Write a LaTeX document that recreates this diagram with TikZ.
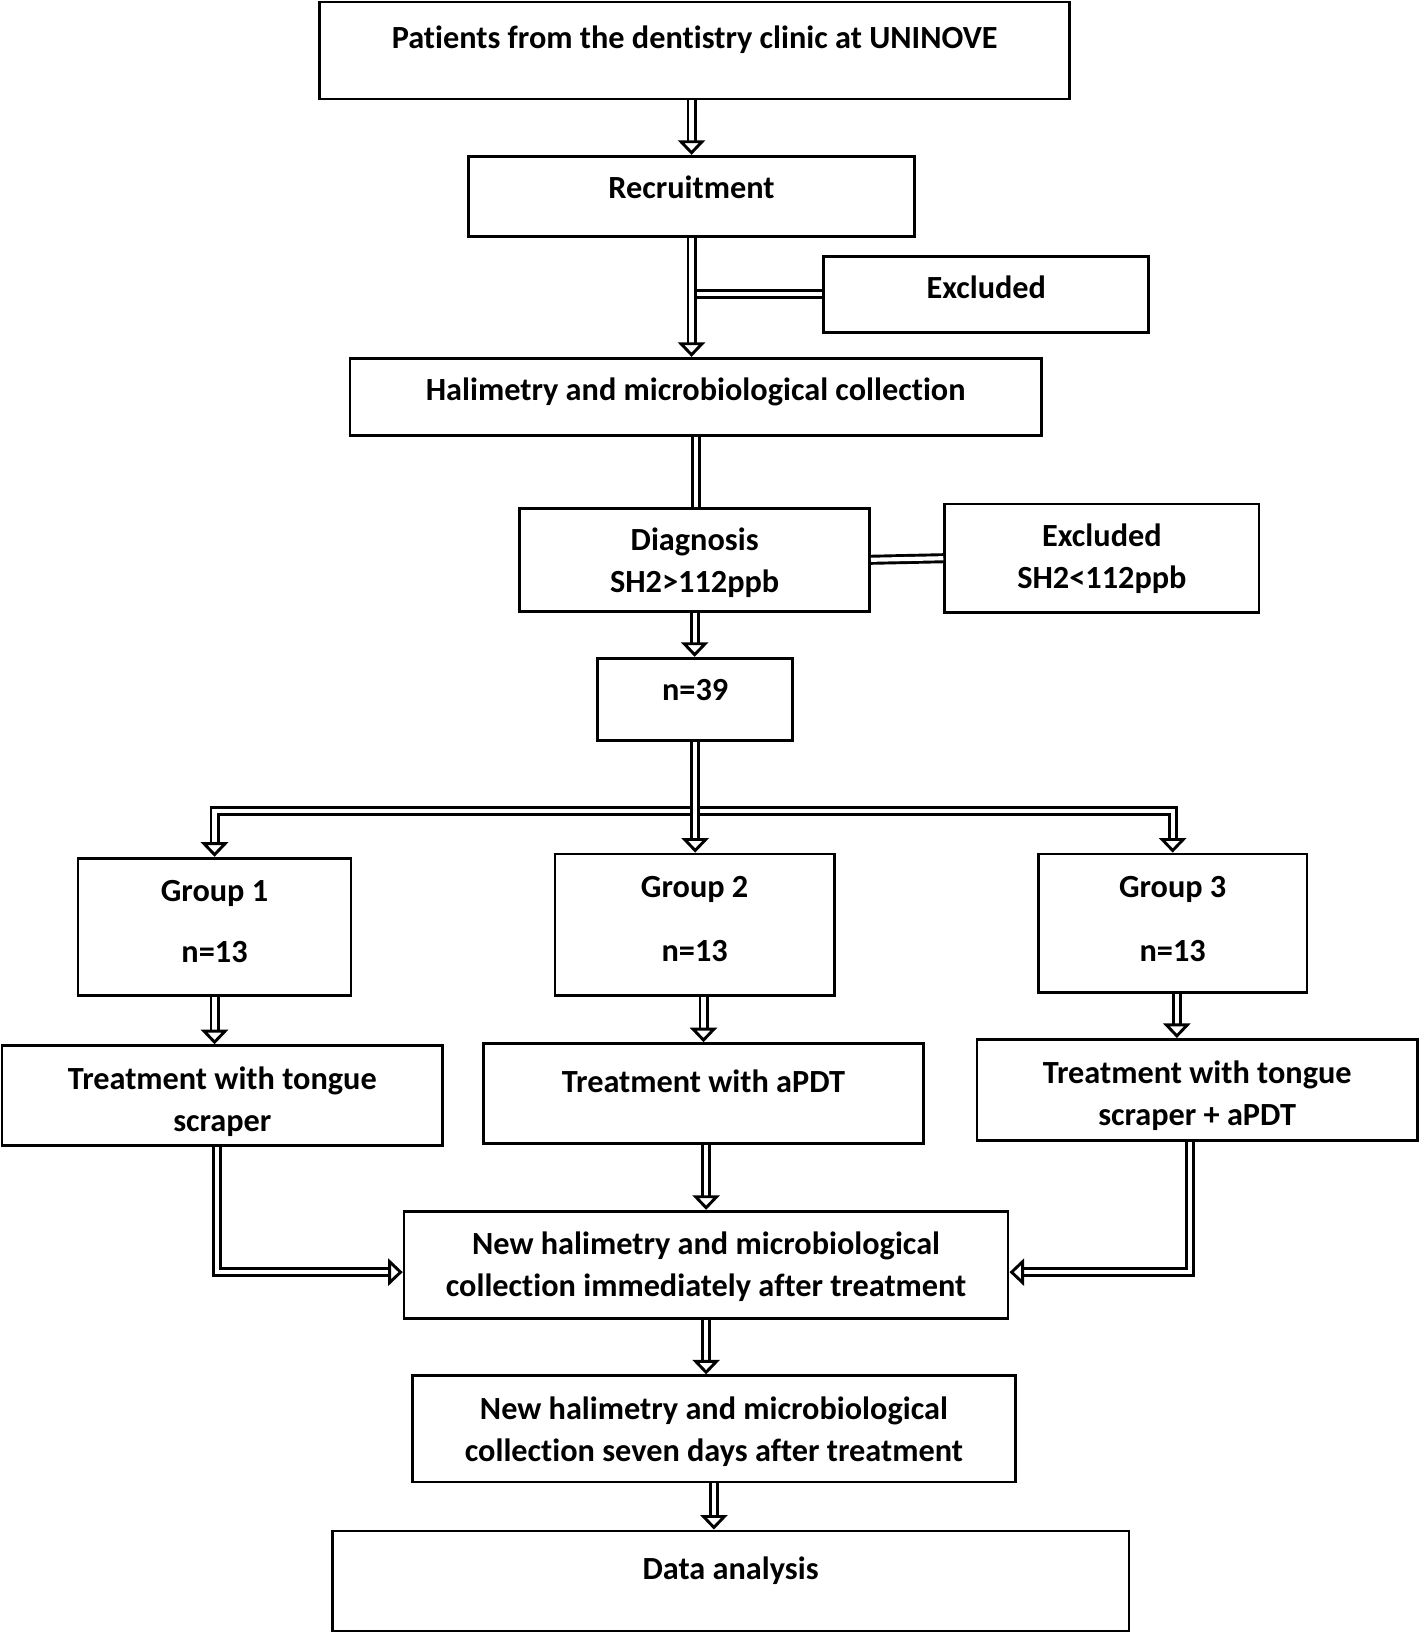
\documentclass[tikz,border=0pt]{standalone}
\usepackage{fontspec}
\setmainfont{Carlito}[Ligatures=NoCommon]
\usetikzlibrary{arrows.meta}

\begin{document}
\begin{tikzpicture}[x=1pt, y=-1pt,
		box/.style={draw, line width=2.6pt, inner sep=0pt, align=center,
			font=\bfseries\fontsize{31}{40}\selectfont},
		dline/.style={double, double distance=4pt, line width=2.8pt},
		darrow/.style={dline, -{Triangle[open, length=14pt, width=26pt, line width=2.8pt]}},
		darrows/.style={dline, {Triangle[open, length=14pt, width=26pt, line width=2.8pt]}-{Triangle[open, length=14pt, width=26pt, line width=2.8pt]}}]
		\useasboundingbox (0,0) rectangle (1363,1568);
		\node [box, minimum width=720, text height=45, text depth=48] (patients) at (667,48.5) {Patients from the dentistry clinic at UNINOVE};
		\node [box, minimum width=428, text height=41, text depth=36] (recruit) at (664,188.5) {Recruitment};
		\node [box, minimum width=312, text height=41, text depth=32] (exclA) at (947,282.5) {Excluded};
		\node [box, minimum width=664, text height=41, text depth=33] (halim) at (668,381) {Halimetry and microbiological collection};
		\node [box, minimum width=336, text height=81, text depth=18] (diag) at (667,537.5) {Diagnosis\\SH2>112ppb};
		\node [box, minimum width=302, text height=81, text depth=23] (exclB) at (1058,536) {Excluded\\SH2<112ppb};
		\node [box, minimum width=187, text height=41, text depth=38] (total) at (667.5,671.5) {n=39};
		\node [box, minimum width=262, text height=100, text depth=32] (group1) at (206,890) {Group 1\\[18pt]n=13};
		\node [box, minimum width=268, text height=103, text depth=33] (group2) at (667,888) {Group 2\\[21pt]n=13};
		\node [box, minimum width=258, text height=103, text depth=30] (group3) at (1126,886.5) {Group 3\\[21pt]n=13};
		\node [box, minimum width=423, text height=82, text depth=14] (treat1) at (213.5,1052) {Treatment with tongue\\scraper};
		\node [box, minimum width=423, text height=47, text depth=49] (treat2) at (675.5,1050) {Treatment with aPDT};
		\node [box, minimum width=423, text height=83, text depth=14] (treat3) at (1149.5,1046.5) {Treatment with tongue\\[1pt]scraper + aPDT};
		\node [box, minimum width=580, text height=82, text depth=21] (after) at (678,1214.5) {New halimetry and microbiological\\collection immediately after treatment};
		\node [box, minimum width=579, text height=82, text depth=20] (seven) at (685.5,1372) {New halimetry and microbiological\\collection seven days after treatment};
		\node [box, minimum width=765, text height=47, text depth=49] (data) at (701.5,1518) {Data analysis};
		\coordinate (split) at (667,779);

		\draw [darrow] (patients.south -| recruit) -- (recruit.north);
		\draw [dline] (exclA.west) -- (recruit.south |- exclA.west);
		\draw [darrow] (recruit.south) -- (recruit.south |- halim.north);
		\draw [dline] (halim.south) -- (halim.south |- diag.north);
		\draw [dline] (diag.east) -- (exclB.west);
		\draw [darrow] (diag.south) -- (diag.south |- total.north);
		\draw [darrows] (group1.north) -- (group1.north |- split) -- (group3.north |- split) -- (group3.north);
		\draw [darrow] (total.south) -- (total.south |- group2.north);
		\draw [darrow] (group1.south) -- (group1.south |- treat1.north);
		\draw [darrow] (treat2.north |- group2.south) -- (treat2.north);
		\draw [darrow] ([xshift=4pt]group3.south) -- ([xshift=4pt]group3.south |- treat3.north);
		\draw [darrow] ([xshift=-5pt]treat1.south) |- ([yshift=-7pt]after.west);
		\draw [darrow] (after.north |- treat2.south) -- (after.north);
		\draw [darrow] ([xshift=-7pt]treat3.south) |- ([yshift=-7pt]after.east);
		\draw [darrow] (after.south) -- (after.south |- seven.north);
		\draw [darrow] (seven.south) -- (seven.south |- data.north);
\end{tikzpicture}
\end{document}
